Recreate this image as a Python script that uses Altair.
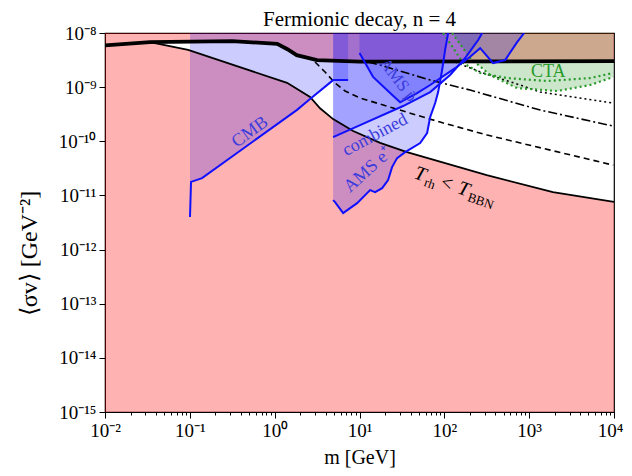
import altair as alt
import numpy as np
import pandas as pd

# ---------------- data: log10(m / GeV), log10(<sigma v> / GeV^-2) ----------------
upper_lx = [-2.0, -1.47, -0.5, 0.03, 0.15, 0.26, 0.5, 1.0, 4.0]
upper_ly = [-8.23, -8.17, -8.15, -8.2, -8.3, -8.41, -8.5, -8.53, -8.52]

bbn_lx = [-2.0, -1.47, -1.02, -0.49, 0.146, 0.417, 0.535, 0.689, 0.925, 1.243, 1.56, 2.5, 3.28, 4.0]
bbn_ly = [-8.23, -8.17, -8.31, -8.59, -8.92, -9.18, -9.39, -9.59, -9.81, -10.03, -10.2, -10.625, -10.94, -11.12]

cmb_lx = [-0.998, -0.986, -0.856, 0.264, 0.417, 0.689, 0.866]
cmb_ly = [-11.40, -10.75, -10.68, -9.42, -9.22, -8.87, -8.87]

amse_lx = [0.689, 0.712, 0.807, 0.889, 0.972, 1.125, 1.184, 1.267, 1.337, 1.384, 1.443, 1.538,
           1.715, 1.797, 1.833, 1.892, 1.927, 1.974, 2.009, 2.045]
amse_ly = [-11.087, -11.124, -11.327, -11.235, -11.142, -10.902, -10.939, -10.865, -10.717, -10.477,
           -10.311, -10.200, -10.033, -9.848, -9.553, -9.294, -9.091, -8.684, -8.314, -8.0]

comb_lx = [0.689, 1.007, 1.514, 1.833, 2.068, 2.245, 2.399, 2.446]
comb_ly = [-9.922, -9.701, -9.349, -9.091, -8.776, -8.462, -8.129, -8.0]

amsp_lx = [1.0, 1.160, 1.361, 1.479, 1.679, 1.833, 2.127, 2.304, 2.422, 2.575, 2.717, 2.858, 2.941]
amsp_ly = [-8.37, -8.81, -9.11, -9.28, -9.11, -8.96, -8.65, -8.44, -8.28, -8.555, -8.50, -8.17, -8.0]

ctaA_lx = [1.986, 2.222, 2.422, 2.741, 3.212, 3.719, 3.991]
ctaA_ly = [-8.0, -8.555, -8.739, -8.832, -8.887, -8.832, -8.739]
ctaB_lx = [2.092, 2.304, 2.540, 2.858, 3.330, 3.719, 3.991]
ctaB_ly = [-8.0, -8.462, -8.776, -9.017, -9.072, -8.961, -8.813]

dash_lx = [0.476, 0.594, 0.712, 0.830, 1.007, 1.396, 1.950, 2.505, 3.248, 3.991]
dash_ly = [-8.536, -8.721, -8.924, -9.072, -9.20, -9.386, -9.645, -9.885, -10.163, -10.44]

dashdot_lx = [1.101, 1.243, 1.833, 2.304, 3.130, 3.991]
dashdot_ly = [-8.536, -8.592, -8.869, -9.054, -9.423, -9.719]

dot_lx = [2.127, 2.458, 2.894, 3.130, 3.991]
dot_ly = [-8.536, -8.739, -8.961, -9.091, -9.294]

label_text = ["CMB", "combined", "AMS e⁺", "AMS p̄", "CTA"]
label_lx = [-0.29, 1.184, 1.101, 1.455, 3.224]
label_ly = [-9.83, -9.885, -10.53, -8.869, -8.72]
label_angle = [-36, -28, -42, 52, 0]
label_size = [18, 18, 18, 17, 18]
label_color = ["#3c3cdc", "#3c3cdc", "#3c3cdc", "#3c3cdc", "#2a9a2a"]

trh_pieces = ["T", "rh", "<", "T", "BBN"]
trh_dx = [0, 12, 28, 46, 58]
trh_dy = [0, 4, 0, 0, 4]
trh_size = [20, 13, 20, 20, 13]
trh_anchor = (1.632, -10.68)
trh_angle = 19

x_major = [1e-2, 1e-1, 1e0, 1e1, 1e2, 1e3, 1e4]
x_minor = [k * 10.0 ** e for e in range(-2, 4) for k in range(2, 10)]
y_major = [10.0 ** e for e in range(-15, -7)]

TOP, BOT = 1e-8, 1e-15
FONT = "Liberation Serif"


def frame(lx, ly):
    return pd.DataFrame({"m": 10 ** np.array(lx, dtype=float),
                         "sv": 10 ** np.array(ly, dtype=float),
                         "top": TOP, "bot": BOT})


major = "abs(log(datum.value)/LN10 - round(log(datum.value)/LN10)) < 0.01"
e = "round(log(datum.value)/LN10)"
sup = "['⁰','¹','²','³','⁴','⁵','⁶','⁷','⁸','⁹']"
label_expr = (f"({major}) ? '10' + ({e} < 0 ? '⁻' : '') + (abs({e}) >= 10 ? '¹' : '') "
              f"+ {sup}[abs({e}) % 10] : ''")

xaxis = alt.Axis(values=sorted(x_major + x_minor), labelExpr=label_expr, labelOverlap=False,
                 tickSize={"condition": {"test": major, "value": 6}, "value": 3},
                 labelOffset={"condition": {"test": "datum.value > 5000", "value": -4}, "value": 0},
                 grid=False, labelPadding=3, titlePadding=7, labelFlush=False, titleFontSize=20)
yaxis = alt.Axis(values=y_major, labelExpr=label_expr, labelOverlap=False, tickSize=6,
                 grid=False, labelPadding=3, labelFlush=False, titleFontSize=24,
                 titleX=-76, titleY=220, titleBaseline="middle", titleAlign="center")

X = alt.X("m:Q", scale=alt.Scale(type="log", domain=[1e-2, 1e4]), axis=xaxis, title="m [GeV]")
Y = alt.Y("sv:Q", scale=alt.Scale(type="log", domain=[BOT, TOP]), axis=yaxis,
          title="⟨σv⟩ [GeV⁻²]")


def area(lx, ly, color, op, lower=False):
    return alt.Chart(frame(lx, ly)).mark_area(color=color, opacity=op, clip=True).encode(
        x=X, y=Y, y2="bot:Q" if lower else "top:Q")


def line(lx, ly, color, width, dash=None):
    kw = dict(color=color, strokeWidth=width, clip=True)
    if dash:
        kw["strokeDash"] = dash
    return alt.Chart(frame(lx, ly)).mark_line(**kw).encode(x=X, y=Y)


layers = [
    area(bbn_lx, bbn_ly, "#ff0000", 0.3, lower=True),
    area(upper_lx, upper_ly, "#ff0000", 0.3),
    area(ctaB_lx, ctaB_ly, "#008000", 0.2),
    area(cmb_lx, cmb_ly, "#0000ff", 0.2),
    area(amse_lx, amse_ly, "#0000ff", 0.2),
    area(comb_lx, comb_ly, "#0000ff", 0.2),
    area(amsp_lx, amsp_ly, "#0000ff", 0.2),
    line(dash_lx, dash_ly, "black", 1.6, [6, 4]),
    line(dashdot_lx, dashdot_ly, "black", 1.6, [9, 3, 2, 3]),
    line(dot_lx, dot_ly, "black", 1.6, [2, 3]),
    line(ctaA_lx, ctaA_ly, "#2a9a2a", 2.2, [2, 3]),
    line(ctaB_lx, ctaB_ly, "#2a9a2a", 2.2, [2, 3]),
    line(bbn_lx, bbn_ly, "black", 1.8),
    line(upper_lx, upper_ly, "black", 3.8),
    line(cmb_lx, cmb_ly, "#1010ff", 2),
    line(amse_lx, amse_ly, "#1010ff", 2),
    line(comb_lx, comb_ly, "#1010ff", 2),
    line(amsp_lx, amsp_ly, "#1010ff", 2),
]

for t, lx, ly, a, s, c in zip(label_text, label_lx, label_ly, label_angle, label_size, label_color):
    df = pd.DataFrame({"m": [10 ** lx], "sv": [10 ** ly], "t": [t]})
    layers.append(alt.Chart(df).mark_text(font=FONT, fontSize=s, angle=a % 360, color=c,
                                          align="center", baseline="middle").encode(
        x=X, y=Y, text="t:N"))

for t, dx, dy, s in zip(trh_pieces, trh_dx, trh_dy, trh_size):
    df = pd.DataFrame({"m": [10 ** trh_anchor[0]], "sv": [10 ** trh_anchor[1]], "t": [t]})
    layers.append(alt.Chart(df).mark_text(font=FONT, fontSize=s, angle=trh_angle, color="black",
                                          align="left", baseline="alphabetic",
                                          dx=dx, dy=dy, fontStyle="italic" if t == "T" else "normal").encode(
        x=X, y=Y, text="t:N"))

chart = alt.layer(*layers).properties(
    width=509, height=379,
    title=alt.TitleParams("Fermionic decay, n = 4", font=FONT, fontSize=21, fontWeight="normal",
                          color="black", offset=2, dy=8),
    autosize=alt.AutoSizeParams(type="none"),
    padding={"left": 97, "top": 25, "right": 10, "bottom": 56},
).configure_view(stroke="black", strokeWidth=1.2).configure_axis(
    labelFont=FONT, labelFontSize=19, labelColor="black", titleFont=FONT,
    titleFontWeight="normal", titleColor="black", domainColor="black", tickColor="black",
)

chart.save("out.html", embed_options={"renderer": "svg", "actions": False})
